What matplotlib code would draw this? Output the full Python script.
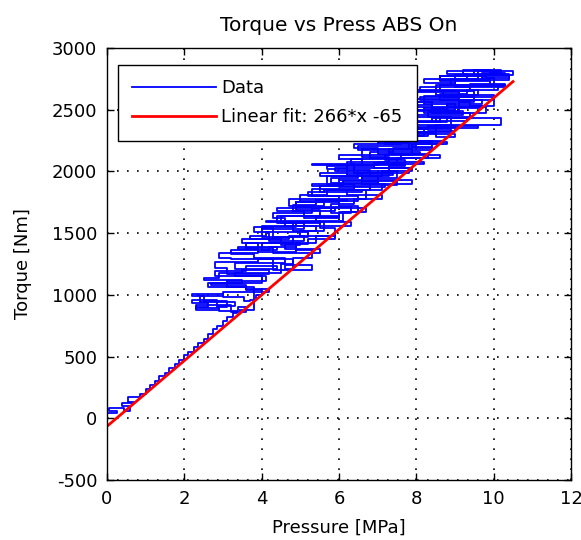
import matplotlib
matplotlib.use('Agg')
import matplotlib.pyplot as plt
import numpy as np

plt.rcParams['axes.unicode_minus'] = False

# pressure / torque trace (MPa, Nm), drawn as a step trace
pressure = [
    # build-up along the fit
    0.0, 0.25, 0.05, 0.45, 0.6, 0.4, 0.7, 0.55, 0.85, 1.0, 1.1, 1.25, 1.35, 1.5, 1.6, 1.75, 1.85, 2.0, 2.1, 2.25,
    2.35, 2.5, 2.6, 2.75, 2.85, 3.0, 3.1, 3.25, 3.35,
    # first modulation cycles
    2.9, 2.3, 2.6, 2.2, 2.85, 3.1, 2.5, 2.2, 3.0, 3.55, 3.7, 3.85, 4.0,
    3.6, 2.6, 3.5, 2.5, 2.9, 3.5, 4.2, 3.1, 2.8, 3.9, 4.3, 5.3, 4.6, 4.8,
    3.2, 2.9, 3.9, 3.4, 4.4, 4.0, 5.0, 4.5, 3.7, 4.1, 5.2, 4.3, 4.0, 5.4, 4.8,
    4.1, 5.5, 4.5, 6.0, 5.1, 4.4, 5.8, 6.3, 4.9, 5.6, 4.7, 6.0, 6.5, 5.2,
    5.6, 6.8, 5.3, 7.2, 6.0, 7.9, 7.0, 5.5, 6.6, 7.5, 5.9, 7.8, 6.4, 5.3, 7.0,
    8.2, 6.3, 7.6, 8.6, 6.8, 7.4, 8.4, 6.5, 8.0, 8.8, 7.2, 7.9, 6.9, 8.5,
    9.0, 7.4, 8.3, 9.6, 7.7, 8.8, 10.2, 8.0, 9.2, 7.6, 9.8, 8.4, 7.5, 9.4, 10.0,
    8.1, 9.1, 7.7, 9.6, 8.5, 10.3, 9.0, 8.2, 9.9, 8.6, 10.4, 9.3, 8.8, 10.5, 9.5, 10.2, 9.7,
    # release
    10.0, 9.4, 8.7, 9.5, 9.1, 8.3, 8.9, 8.5, 7.8, 8.4, 7.9, 7.2, 7.7, 7.3, 6.6, 7.1, 6.7, 6.0, 6.5, 6.1,
    5.5, 5.9, 5.4, 4.9, 5.3, 4.8,
    4.5, 3.3, 4.0, 2.7, 3.6, 4.2, 3.0, 2.4, 3.3, 2.9, 2.3, 3.2, 3.6, 3.4,
    # second build-up
    3.8, 3.1, 4.1, 2.8, 3.6, 4.4, 3.3, 4.6, 3.8, 3.2, 4.2, 4.9, 3.9, 3.5, 4.7, 5.1, 4.2, 3.8, 4.9, 5.6,
    4.6, 4.3, 5.3, 5.9, 4.8, 5.4, 6.2, 5.0, 5.7, 6.6, 5.5, 6.1, 7.0, 5.8, 6.5, 7.4, 6.2, 5.7, 6.9, 7.7,
    6.6, 6.0, 7.3, 8.1, 7.0, 6.4, 7.6, 8.4, 7.2, 6.8, 8.0, 8.9, 7.6, 7.1, 8.4, 9.3, 8.0, 7.5, 8.8, 9.7,
    8.4, 7.9, 9.1, 10.0, 8.7, 8.1, 9.4, 10.3, 9.0, 8.6, 9.8, 10.4, 9.2, 9.9,
    # second release
    10.3, 9.6, 8.9, 10.1, 9.3, 8.6, 9.7, 8.8, 8.2, 9.4, 8.5, 7.9, 9.0, 8.3, 7.6, 8.7, 7.9, 7.3, 8.3, 7.5,
    6.9, 7.9, 7.1, 6.6, 7.5, 6.8, 6.2, 7.1, 6.4, 5.8, 6.7, 6.0, 5.4, 6.3, 5.6, 5.0, 5.9, 5.2, 4.6, 5.5,
    # third build-up
    4.3, 3.6, 4.8, 4.0, 5.1, 4.4, 5.5, 4.9, 6.0, 5.3, 6.4, 5.7, 6.8, 6.2, 7.3, 6.6, 7.8, 7.0, 8.2, 7.4,
    8.6, 7.8, 9.0, 8.2, 9.5, 8.6, 9.9, 9.0, 10.2, 9.6,
]
torque = [
    40, 60, 80, 55, 100, 120, 130, 175, 200, 240, 270, 300, 340, 370, 410, 440, 470, 510, 540, 580,
    610, 640, 680, 720, 750, 790, 820, 850, 870,
    890, 900, 930, 960, 900, 950, 990, 1010, 980, 950, 960, 1000, 1040,
    1060, 1100, 1120, 1140, 1180, 1200, 1170, 1220, 1270, 1290, 1200, 1240, 1210, 1290,
    1300, 1340, 1370, 1390, 1360, 1420, 1400, 1450, 1480, 1510, 1470, 1540, 1560, 1520, 1590,
    1600, 1580, 1640, 1620, 1680, 1700, 1660, 1710, 1750, 1720, 1780, 1760, 1800, 1830,
    1850, 1880, 1900, 1870, 1930, 1900, 1960, 1990, 1950, 2000, 2030, 1990, 2060, 2050, 2080,
    2060, 2100, 2130, 2110, 2160, 2190, 2170, 2210, 2240, 2220, 2260, 2290, 2310, 2280,
    2300, 2340, 2370, 2350, 2400, 2430, 2380, 2460, 2490, 2520, 2470, 2540, 2560, 2530, 2580,
    2600, 2640, 2660, 2620, 2700, 2680, 2720, 2750, 2730, 2770, 2740, 2790, 2810, 2780, 2820, 2800, 2760,
    2700, 2650, 2600, 2560, 2480, 2440, 2380, 2320, 2250, 2200, 2130, 2090, 2040, 1960, 1900, 1850, 1780, 1720, 1670, 1600,
    1540, 1480, 1420, 1360, 1300, 1250,
    1180, 1150, 1100, 1080, 1050, 1020, 990, 940, 910, 880, 920, 860, 900, 880,
    1060, 1110, 1150, 1190, 1230, 1210, 1260, 1300, 1330, 1360, 1390, 1350, 1420, 1450, 1480, 1440, 1510, 1550, 1590, 1560,
    1620, 1660, 1700, 1680, 1730, 1770, 1760, 1810, 1850, 1830, 1880, 1920, 1910, 1950, 1990, 1970, 2020, 2040, 2070, 2050,
    2100, 2130, 2160, 2140, 2190, 2220, 2250, 2230, 2280, 2310, 2340, 2320, 2370, 2400, 2430, 2410, 2460, 2500, 2530, 2510,
    2560, 2590, 2620, 2600, 2650, 2680, 2710, 2690, 2740, 2770, 2760, 2790, 2820, 2800,
    2780, 2750, 2700, 2660, 2630, 2580, 2550, 2510, 2470, 2440, 2400, 2360, 2330, 2290, 2250, 2220, 2180, 2140, 2110, 2070,
    2030, 2000, 1960, 1920, 1890, 1850, 1810, 1780, 1740, 1700, 1670, 1630, 1590, 1560, 1520, 1480, 1450, 1410, 1370, 1340,
    1380, 1420, 1470, 1530, 1580, 1640, 1690, 1750, 1800, 1860, 1900, 1960, 2010, 2080, 2120, 2180, 2230, 2290, 2340, 2400,
    2440, 2500, 2550, 2610, 2650, 2700, 2740, 2780, 2810, 2790,
]

fit_slope = 266
fit_offset = -65
fit_range = [0.0, 10.5]

x_ticks = [0, 2, 4, 6, 8, 10, 12]
y_ticks = [-500, 0, 500, 1000, 1500, 2000, 2500, 3000]

fs = 13


def main():
    fig = plt.figure(figsize=(5.81, 5.40), dpi=100)
    ax = fig.add_axes([107 / 581, 60 / 540, 464 / 581, 432 / 540])

    ax.plot(pressure, torque, color='#0000ff', lw=1.3, drawstyle='steps-post', label='Data')
    fx = np.array(fit_range)
    ax.plot(fx, fit_slope * fx + fit_offset, color='#ff0000', lw=2.0,
            label='Linear fit: %d*x %d' % (fit_slope, fit_offset))

    ax.set_xlim(0, 12)
    ax.set_ylim(-500, 3000)
    ax.set_xticks(x_ticks)
    ax.set_yticks(y_ticks)
    ax.tick_params(direction='in', top=True, right=True, length=5, width=1,
                   labelsize=fs, pad=7)
    ax.grid(True, color='k', linestyle=(0, (1, 5)), linewidth=1.2)
    for s in ax.spines.values():
        s.set_linewidth(1.0)

    ax.set_title('Torque vs Press ABS On', fontsize=14.5, pad=12)
    ax.set_xlabel('Pressure [MPa]', fontsize=fs, labelpad=8)
    ax.set_ylabel('Torque [Nm]', fontsize=fs, labelpad=14)

    leg = ax.legend(loc='upper left', bbox_to_anchor=(11 / 464, 415 / 432), borderaxespad=0,
                    fontsize=fs, fancybox=False, framealpha=1, edgecolor='k',
                    handlelength=4.6, handletextpad=0.3, labelspacing=0.6, borderpad=0.8)
    leg.get_frame().set_linewidth(1.0)

    fig.savefig('out.png', dpi=100)


if __name__ == '__main__':
    main()
